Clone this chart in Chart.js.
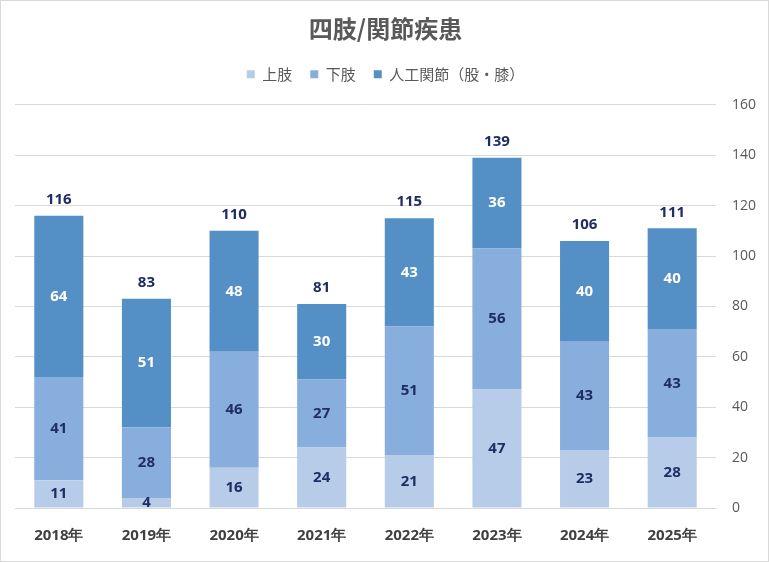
<!DOCTYPE html>
<html lang="ja">
<head>
<meta charset="UTF-8" />
<title>四肢/関節疾患</title>
<style>
  html, body { margin: 0; padding: 0; background: #fff; }
  #wrap { width: 769px; height: 562px; }
</style>
</head>
<body>
<div id="wrap"><canvas id="chartJSContainer" width="769" height="562"></canvas></div>
<script src="https://cdn.jsdelivr.net/npm/chart.js@4.4.1/dist/chart.umd.min.js"></script>
<script>
const years = ['2018年', '2019年', '2020年', '2021年', '2022年', '2023年', '2024年', '2025年'];
const upperLimb = [11, 4, 16, 24, 21, 47, 23, 28];
const lowerLimb = [41, 28, 46, 27, 51, 56, 43, 43];
const artificialJoint = [64, 51, 48, 30, 43, 36, 40, 40];
const yTicks = [0, 20, 40, 60, 80, 100, 120, 140, 160];

const FONT = "'Noto Sans CJK JP', 'Noto Sans', sans-serif";
const NUM_FONT = "'Open Sans', 'Noto Sans', sans-serif";

const totals = years.map((_, i) => upperLimb[i] + lowerLimb[i] + artificialJoint[i]);

// white background + thin outer frame
const frame = {
  id: 'frame',
  beforeDraw(chart) {
    const { ctx, width, height } = chart;
    ctx.save();
    ctx.fillStyle = '#fff';
    ctx.fillRect(0, 0, width, height);
    ctx.strokeStyle = '#d9d9d9';
    ctx.lineWidth = 1;
    ctx.strokeRect(0.5, 0.5, width - 1, height - 1);
    ctx.restore();
  }
};

// more room under the legend
const legendGap = {
  id: 'legendGap',
  beforeInit(chart) {
    const fit = chart.legend.fit;
    chart.legend.fit = function () {
      fit.bind(chart.legend)();
      this.height += 13;
    };
  }
};

// value labels inside segments and totals above bars
const barLabels = {
  id: 'barLabels',
  afterDatasetsDraw(chart) {
    const { ctx } = chart;
    ctx.save();
    ctx.textAlign = 'center';
    ctx.textBaseline = 'middle';
    ctx.font = `bold 15px ${NUM_FONT}`;
    chart.data.datasets.forEach((ds, di) => {
      const meta = chart.getDatasetMeta(di);
      meta.data.forEach((bar, i) => {
        const y = (bar.y + bar.base) / 2;
        ctx.fillStyle = di === 2 ? '#ffffff' : '#1f2d63';
        ctx.fillText(ds.data[i], bar.x, y);
      });
    });
    const top = chart.getDatasetMeta(2).data;
    ctx.fillStyle = '#1f2d63';
    top.forEach((bar, i) => {
      ctx.fillText(totals[i], bar.x, bar.y - 16);
    });
    ctx.restore();
  }
};

const data = {
  labels: years,
  datasets: [
    { label: '上肢', data: upperLimb, backgroundColor: '#b7cce9' },
    { label: '下肢', data: lowerLimb, backgroundColor: '#87aedc' },
    { label: '人工関節（股・膝）', data: artificialJoint, backgroundColor: '#5490c6' }
  ]
};

const options = {
  responsive: false,
  animation: false,
  layout: { padding: { left: 15, right: 13, top: 8, bottom: -2 } },
  datasets: { bar: { barPercentage: 0.56, categoryPercentage: 1 } },
  scales: {
    x: {
      stacked: true,
      grid: { display: false, drawTicks: false },
      border: { color: '#d9d9d9' },
      ticks: { color: '#404040', font: { family: NUM_FONT, size: 15, weight: 'bold' }, padding: 19 }
    },
    y: {
      stacked: true,
      position: 'right',
      min: 0,
      max: 160,
      afterBuildTicks(axis) { axis.ticks = yTicks.map(v => ({ value: v })); },
      afterFit(axis) { axis.width = 40; },
      grid: { color: '#d9d9d9', drawTicks: false },
      border: { display: false },
      ticks: { color: '#595959', font: { family: NUM_FONT, size: 14 }, padding: 16 }
    }
  },
  plugins: {
    title: {
      display: true,
      text: '四肢/関節疾患',
      color: '#595959',
      font: { family: FONT, size: 24, weight: 'bold' },
      padding: { top: 6, bottom: 6 }
    },
    legend: {
      position: 'top',
      labels: {
        color: '#595959',
        font: { family: FONT, size: 15 },
        usePointStyle: true,
        pointStyle: 'rect',
        boxWidth: 8,
        boxHeight: 8,
        padding: 18
      }
    },
    tooltip: { enabled: false }
  }
};

new Chart(document.getElementById('chartJSContainer').getContext('2d'), {
  type: 'bar',
  data,
  options,
  plugins: [frame, legendGap, barLabels]
});
</script>
</body>
</html>
